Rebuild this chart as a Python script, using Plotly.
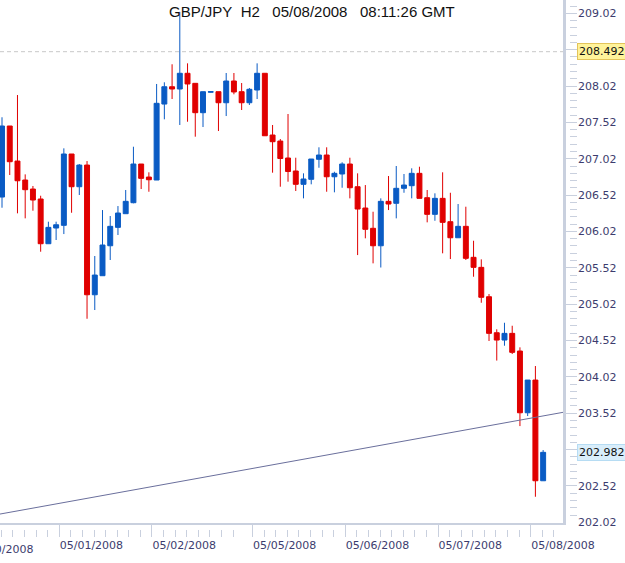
import plotly.graph_objects as go

# ---------------- data ----------------
title_text = "GBP/JPY\u00a0\u00a0H2\u00a0\u00a0\u00a005/08/2008\u00a0\u00a0\u00a008:11:26 GMT"

opens = [206.493, 207.470, 206.988, 206.727, 206.603, 206.466, 205.851, 206.067, 206.104, 207.085,
         206.635, 206.933, 205.149, 205.411, 205.823, 206.076, 206.264, 206.415, 206.947, 206.768,
         206.727, 207.772, 208.010, 207.979, 208.195, 208.057, 207.653, 207.935, 207.942, 207.790,
         208.089, 207.942, 207.790, 207.965, 208.195, 207.346, 207.263, 207.030, 206.851, 206.668,
         206.737, 207.012, 207.071, 206.772, 206.810, 206.947, 206.635, 206.342, 206.063, 205.823,
         206.434, 206.407, 206.613, 206.649, 206.819, 206.484, 206.255, 206.475, 206.154, 205.933,
         206.090, 205.664, 205.526, 205.122, 204.627, 204.526, 204.618, 204.375, 203.526, 203.976,
         202.591]
highs = [207.590, 207.470, 207.896, 206.805, 206.645, 206.511, 206.154, 206.154, 207.163, 207.085,
         206.947, 206.988, 205.682, 206.314, 206.232, 206.369, 206.590, 207.185, 206.947, 206.833,
         208.048, 208.071, 208.319, 209.040, 208.332, 208.057, 207.942, 207.945, 207.942, 208.199,
         208.199, 208.061, 207.993, 208.332, 208.195, 207.484, 207.291, 207.635, 207.034, 206.819,
         207.016, 207.177, 207.177, 206.841, 206.971, 207.034, 206.819, 206.658, 206.291, 206.475,
         206.782, 206.920, 206.810, 206.888, 206.910, 206.590, 206.544, 206.833, 206.552, 206.397,
         206.360, 205.892, 205.636, 205.159, 204.674, 204.764, 204.723, 204.426, 203.976, 204.169,
         203.013]
lows = [206.346, 206.796, 206.269, 206.200, 206.305, 205.741, 205.851, 205.902, 205.984, 206.277,
        206.521, 204.819, 204.939, 205.411, 205.627, 205.971, 206.264, 206.407, 206.603, 206.566,
        206.727, 207.562, 207.841, 207.484, 207.529, 207.323, 207.456, 207.932, 207.401, 207.607,
        207.906, 207.690, 207.759, 207.841, 207.336, 206.828, 206.635, 206.704, 206.576, 206.475,
        206.668, 206.896, 206.566, 206.558, 206.621, 206.475, 205.695, 205.925, 205.581, 205.524,
        206.314, 206.200, 206.552, 206.475, 206.475, 206.145, 206.167, 205.719, 205.640, 205.933,
        205.627, 205.397, 205.039, 204.513, 204.244, 204.448, 204.334, 203.343, 203.481, 202.371,
        202.591]
closes = [207.470, 206.979, 206.717, 206.594, 206.452, 205.851, 206.076, 206.112, 207.085, 206.635,
          206.933, 205.149, 205.420, 205.833, 206.090, 206.273, 206.434, 206.947, 206.750, 206.731,
          207.782, 208.010, 207.979, 208.195, 208.048, 207.653, 207.942, 207.942, 207.790, 208.089,
          207.938, 207.790, 207.975, 208.195, 207.336, 207.254, 207.023, 206.844, 206.668, 206.741,
          207.016, 207.071, 206.772, 206.819, 206.947, 206.621, 206.328, 206.049, 205.823, 206.434,
          206.397, 206.613, 206.658, 206.819, 206.475, 206.255, 206.475, 206.145, 205.933, 206.090,
          205.650, 205.526, 205.114, 204.618, 204.526, 204.618, 204.357, 203.526, 203.976, 202.591,
          202.982]

# day labels and index of the first H2 bar of each day
day_labels = ["04/30/2008", "05/01/2008", "05/02/2008", "05/05/2008", "05/06/2008", "05/07/2008", "05/08/2008"]
day_first_bar = [-4, 8, 20, 33, 45, 57, 69]

# price lines
marker_price = 208.492          # dashed line / yellow label
last_price = 202.982            # blue label

# trend line anchors (bar index, price)
trend_x = [-0.26, 72.57]
trend_y = [202.133, 203.532]

y_tick_start = 202.02
y_tick_step = 0.5
y_tick_count = 15
y_minor_step = 0.1

# ---------------- style ----------------
W, H = 625, 563
PLOT_R = 563      # px
PLOT_B = 523      # px
XBAND_B = 537     # px
YBAND_R = 577     # px
BLUE = "#0a5bc4"
RED = "#e00000"
FRAME = "#c9d0de"
TICKC = "#c9d0de"
LABELC = "#3c3c6e"
AXFONT = dict(family="DejaVu Sans, Verdana, sans-serif", size=11, color=LABELC)

xmin, xmax = trend_x[0], trend_x[1]
ymin, ymax = 202.01, 209.203

idx = list(range(len(opens)))
tick_shift = -0.6
major_x = [d + tick_shift for d in day_first_bar]
minor_x = [major_x[1] - 1.5 * k for k in range(1, 6)]
for d in major_x[1:]:
    for k in range(1, 8):
        minor_x.append(d + 1.5 * k)

y_ticks = [round(y_tick_start + y_tick_step * k, 2) for k in range(y_tick_count)]
# labels hidden behind the highlighted price boxes
y_text = ["" if min(abs(v - marker_price), abs(v - last_price)) < 0.1 else f"{v:.2f}" for v in y_ticks]

fig = go.Figure()
fig.add_trace(go.Candlestick(
    x=idx, open=opens, high=highs, low=lows, close=closes,
    increasing=dict(line=dict(color=BLUE, width=1), fillcolor=BLUE),
    decreasing=dict(line=dict(color=RED, width=1), fillcolor=RED),
    whiskerwidth=0, showlegend=False, hoverinfo="skip"))
fig.add_trace(go.Scatter(
    x=trend_x, y=trend_y, mode="lines",
    line=dict(color="#6a6f9c", width=1), showlegend=False, hoverinfo="skip"))
# dummy trace for the overlay axes (tick bands)
fig.add_trace(go.Scatter(x=[None], y=[None], xaxis="x2", yaxis="y2",
                         showlegend=False, hoverinfo="skip"))

xd = PLOT_R / W
yd = (H - PLOT_B) / H

fig.update_layout(
    width=W, height=H,
    margin=dict(l=0, r=0, t=0, b=0, autoexpand=False),
    paper_bgcolor="white", plot_bgcolor="white",
    boxgap=0.36, boxgroupgap=0,
    showlegend=False,
    xaxis=dict(domain=[0, xd], range=[xmin, xmax], showline=True, linecolor=FRAME, linewidth=2,
               ticks="", showticklabels=False, showgrid=False, zeroline=False,
               rangeslider=dict(visible=False), fixedrange=True),
    yaxis=dict(domain=[yd, 1], range=[ymin, ymax], side="right", showline=True, linecolor=FRAME,
               linewidth=3, ticks="", showticklabels=False, showgrid=False, zeroline=False,
               fixedrange=True),
    xaxis2=dict(overlaying="x", anchor="free", position=(H - XBAND_B) / H, range=[xmin, xmax],
                tickmode="array", tickvals=major_x, ticktext=day_labels,
                ticks="inside", ticklen=14, tickwidth=1, tickcolor=TICKC,
                minor=dict(tickvals=minor_x, ticks="inside", ticklen=7, tickwidth=1, tickcolor=TICKC),
                ticklabelposition="outside right", tickfont=AXFONT,
                showline=False, showgrid=False, zeroline=False, fixedrange=True),
    yaxis2=dict(overlaying="y", anchor="free", position=YBAND_R / W, side="right",
                range=[ymin, ymax], tickmode="array", tickvals=y_ticks, ticktext=y_text,
                ticks="inside", ticklen=14, tickwidth=1, tickcolor=TICKC,
                minor=dict(tick0=y_tick_start, dtick=y_minor_step, ticks="inside", ticklen=7,
                           tickwidth=1, tickcolor=TICKC),
                tickfont=AXFONT, showline=False, showgrid=False, zeroline=False, fixedrange=True),
)

# dashed price line
fig.add_shape(type="line", xref="x domain", yref="y", x0=0, x1=1, y0=marker_price, y1=marker_price,
              line=dict(color="#c8c8c8", width=1, dash="4px,3px"), layer="below")

# price labels on the axis
fig.add_annotation(xref="paper", yref="y", x=YBAND_R / W, y=marker_price, xanchor="left",
                   yanchor="middle", text=f"{marker_price:.3f}", showarrow=False,
                   font=dict(family="DejaVu Sans, Verdana, sans-serif", size=11, color="#111111"),
                   bgcolor="#fff39a", bordercolor="#e3c45a", borderwidth=1, borderpad=1)
fig.add_annotation(xref="paper", yref="y", x=YBAND_R / W, y=last_price, xanchor="left",
                   yanchor="middle", text=f"{last_price:.3f}", showarrow=False,
                   font=dict(family="DejaVu Sans, Verdana, sans-serif", size=11, color="#111111"),
                   bgcolor="#d9eefb", bordercolor="#b6dcf3", borderwidth=1, borderpad=1)

# first (clipped) day label that lies left of the visible range
fig.add_annotation(xref="x domain", yref="paper", x=(major_x[0] - xmin) / (xmax - xmin),
                   y=(H - 549) / H, xanchor="left", yanchor="middle", xshift=2,
                   text=day_labels[0], showarrow=False, font=AXFONT)

# title
fig.add_annotation(xref="paper", yref="paper", x=312 / W, y=1 - 11 / H, xanchor="center",
                   yanchor="middle", text=title_text, showarrow=False,
                   font=dict(family="Arial, Liberation Sans, sans-serif", size=15, color="#111111"))

fig.write_html("out.html")
